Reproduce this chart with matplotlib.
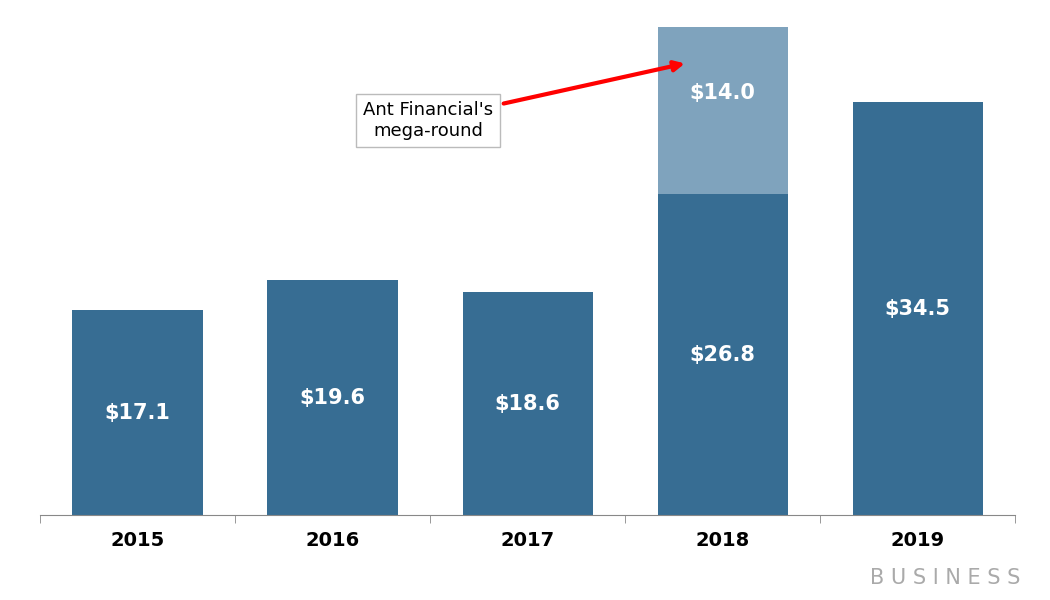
import matplotlib
matplotlib.use("Agg")
import matplotlib.pyplot as plt

years = ["2015", "2016", "2017", "2018", "2019"]
base = [17.1, 19.6, 18.6, 26.8, 34.5]
extra = [0, 0, 0, 14.0, 0]

dark = "#376d93"
light = "#7fa3bd"

fig = plt.figure(figsize=(10.5, 6), dpi=100)
ax = fig.add_axes([0.038, 0.142, 0.929, 0.825])
x = list(range(len(years)))
ax.bar(x, base, width=0.667, color=dark)
ax.bar(x, extra, bottom=base, width=0.667, color=[light if e else dark for e in extra])
for i in x:
    ax.text(i, base[i] / 2, f"${base[i]:.1f}", ha="center", va="center", color="white", fontsize=15, fontweight="bold")
    if extra[i]:
        ax.text(i, base[i] + extra[i] / 2 + 1.5, f"${extra[i]:.1f}", ha="center", va="center", color="white", fontsize=15, fontweight="bold")

ax.annotate("Ant Financial's\nmega-round", xy=(2.82, 37.8), xytext=(1.49, 33.0),
            ha="center", va="center", fontsize=13,
            bbox=dict(boxstyle="square,pad=0.4", fc="white", ec="#bbbbbb"),
            arrowprops=dict(arrowstyle="-|>", color="red", lw=3, mutation_scale=15))

ax.set_xlim(-0.5, 4.5)
ax.set_ylim(0, 41.4)
ax.set_yticks([])
for s in ["top", "right", "left"]:
    ax.spines[s].set_visible(False)
ax.spines["bottom"].set_color("#888888")
ax.set_xticks(x)
ax.set_xticklabels(years, fontsize=14, fontweight="bold")
ax.tick_params(axis="x", length=0, pad=12)
ax.set_xticks([i - 0.5 for i in range(6)], minor=True)
ax.tick_params(axis="x", which="minor", length=6, color="#888888")

fig.text(0.972, 0.02, "B U S I N E S S", ha="right", va="bottom", fontsize=15, color="#aaaaaa")
fig.savefig("out.png")
